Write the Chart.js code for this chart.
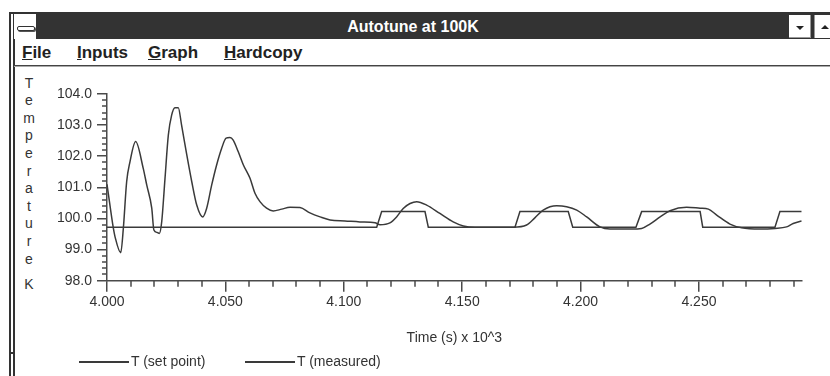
<!DOCTYPE html>
<html>
<head>
<meta charset="utf-8">
<title>Autotune at 100K</title>
<script src="https://cdn.jsdelivr.net/npm/chart.js@4.4.1/dist/chart.umd.min.js"></script>
<style>
    body { margin: 0; width: 830px; height: 376px; overflow: hidden; background: #fff; position: relative;
           font-family: "Liberation Sans", Arial, sans-serif; color: #2e2e2e; }
    .abs { position: absolute; }
    .menu { position: absolute; top: 44px; font-size: 17px; font-weight: bold; line-height: 17px; color: #222; }
    .letter { position: absolute; left: 22px; width: 14px; text-align: center; font-size: 14px; line-height: 17.6px; color: #333; }
    .leg-line { position: absolute; height: 1.5px; background: #3a3a3a; }
    .leg-text { position: absolute; font-size: 14px; line-height: 16px; color: #333; }
    #grafico { position: absolute; left: 15px; top: 67px; }
</style>
</head>
<body>
<!-- window frame -->
<div class="abs" style="left:9px; top:12px; width:830px; height:1.5px; background:#333;"></div>
<div class="abs" style="left:9px; top:12px; width:1.5px; height:370px; background:#333;"></div>
<div class="abs" style="left:13px; top:12px; width:1.5px; height:370px; background:#333;"></div>
<div class="abs" style="left:9px; top:352px; width:5px; height:1.5px; background:#333;"></div>
<div class="abs" style="left:37px; top:12px; width:1px; height:3px; background:#333;"></div>
<div class="abs" style="left:812px; top:12px; width:1px; height:3px; background:#333;"></div>

<!-- title bar -->
<div class="abs" style="left:14px; top:14px; width:820px; height:25px; background:#333;"></div>
<div class="abs" style="left:14px; top:14px; width:22px; height:25px; background:#fff; border-right:1px solid #333;"></div>
<div class="abs" style="left:17px; top:26px; width:16px; height:3px; background:#fff; border:1px solid #333; border-radius:2px; box-shadow:1px 1px 0 #555;"></div>
<div class="abs" style="left:37px; top:14px; width:752px; height:25px; line-height:25px; text-align:center; color:#fff; font-size:16px; font-weight:bold;">Autotune at 100K</div>
<div class="abs" style="left:789px; top:15px; width:22px; height:23px; background:#fff; box-shadow:inset -1px -1px 0 #999;"></div>
<div class="abs" style="left:796px; top:26px; width:0; height:0; border-left:4px solid transparent; border-right:4px solid transparent; border-top:4px solid #222;"></div>
<div class="abs" style="left:814px; top:15px; width:20px; height:23px; background:#fff; box-shadow:inset 1px 0 0 #999;"></div>
<div class="abs" style="left:821px; top:25px; width:0; height:0; border-left:4px solid transparent; border-right:4px solid transparent; border-bottom:4px solid #222;"></div>

<!-- menu bar -->
<div class="menu" style="left:22px;"><u>F</u>ile</div>
<div class="menu" style="left:77px;"><u>I</u>nputs</div>
<div class="menu" style="left:148px;"><u>G</u>raph</div>
<div class="menu" style="left:224px;"><u>H</u>ardcopy</div>
<div class="abs" style="left:14px; top:65px; width:820px; height:1px; background:#444;"></div>
<div class="abs" style="left:14px; top:66px; width:820px; height:1px; background:#aaa;"></div>

<div id="ytitulo"></div>
<canvas id="grafico" width="815" height="309"></canvas>
<div id="leyenda"></div>

<script>
// Time axis (s x 10^3)
const timeSetPoint = [4.0000, 4.1139, 4.1160, 4.1343, 4.1357, 4.1723, 4.1744, 4.1948, 4.1967,
    4.2234, 4.2258, 4.2505, 4.2516, 4.2821, 4.2842, 4.2934];
const tempSetPoint = [99.72, 99.72, 100.22, 100.22, 99.72, 99.72, 100.22, 100.22, 99.72,
    99.72, 100.22, 100.22, 99.72, 99.72, 100.22, 100.22];

const timeMeasured = [4.0000, 4.0027, 4.0034, 4.0058, 4.0069, 4.0083, 4.0097, 4.0121, 4.0153, 4.0168,
    4.0189, 4.0198, 4.0212, 4.0221, 4.0231, 4.0245, 4.0259, 4.0273, 4.0287, 4.0301,
    4.0315, 4.0337, 4.0358, 4.0379, 4.0404, 4.0421, 4.0442, 4.0463, 4.0484, 4.0503,
    4.0519, 4.0533, 4.0554, 4.0576, 4.0604, 4.0625, 4.0646, 4.0674, 4.0702, 4.0738,
    4.0773, 4.0815, 4.0857, 4.0900, 4.0942, 4.1005, 4.1068, 4.1132, 4.1153, 4.1195,
    4.1223, 4.1251, 4.1280, 4.1308, 4.1350, 4.1406, 4.1462, 4.1505, 4.1554, 4.1716,
    4.1772, 4.1807, 4.1842, 4.1899, 4.1941, 4.1984, 4.2026, 4.2082, 4.2124, 4.2216,
    4.2258, 4.2293, 4.2336, 4.2378, 4.2448, 4.2505, 4.2540, 4.2575, 4.2631, 4.2680,
    4.2758, 4.2821, 4.2870, 4.2898, 4.2934];
const tempMeasured = [101.10, 99.68, 99.41, 98.90, 99.68, 101.18, 101.82, 102.47, 101.61, 101.07,
    100.33, 99.63, 99.55, 99.52, 99.89, 101.29, 102.68, 103.32, 103.56, 103.56,
    103.00, 102.04, 101.18, 100.43, 100.05, 100.33, 101.07, 101.72, 102.25, 102.58,
    102.60, 102.52, 102.15, 101.72, 101.29, 100.81, 100.54, 100.33, 100.24, 100.30,
    100.36, 100.35, 100.18, 100.05, 99.95, 99.92, 99.89, 99.86, 99.80, 99.86,
    100.05, 100.32, 100.48, 100.54, 100.43, 100.16, 99.89, 99.76, 99.72, 99.72,
    99.79, 100.02, 100.27, 100.41, 100.38, 100.27, 100.05, 99.73, 99.66, 99.66,
    99.68, 99.82, 100.05, 100.25, 100.36, 100.33, 100.30, 100.11, 99.82, 99.70,
    99.66, 99.68, 99.73, 99.84, 99.92];

const seriesLabels = ['T (set point)', 'T (measured)'];
const xTicks = [4.000, 4.050, 4.100, 4.150, 4.200, 4.250];
const yTicks = [98.0, 99.0, 100.0, 101.0, 102.0, 103.0, 104.0];
const yTitle = ['T', 'e', 'm', 'p', 'e', 'r', 'a', 't', 'u', 'r', 'e'];
const yUnit = 'K';

const INK = '#3a3a3a';
const AXIS = '#4a4a4a';

// minor tick marks, placed through the chart scales
const minorTicks = {
    id: 'minorTicks',
    afterDraw(chart) {
        const { ctx, scales: { x, y } } = chart;
        ctx.save();
        ctx.strokeStyle = AXIS;
        ctx.lineWidth = 1.5;
        ctx.beginPath();
        for (let i = 1; i < 30; i++) {
            if (i % 5 === 0) continue;
            const px = Math.round(x.getPixelForValue(4 + i * 0.01));
            ctx.moveTo(px, y.bottom);
            ctx.lineTo(px, y.bottom + 6);
        }
        for (let i = 1; i < 30; i++) {
            if (i % 5 === 0) continue;
            const py = Math.round(y.getPixelForValue(98 + i * 0.2));
            ctx.moveTo(x.left, py);
            ctx.lineTo(x.left - 5, py);
        }
        ctx.stroke();
        ctx.restore();
    }
};

function puntos(xs, ys) {
    return xs.map((t, i) => ({ x: t, y: ys[i] }));
}

new Chart(document.getElementById('grafico'), {
    type: 'line',
    data: {
        datasets: [{
            label: seriesLabels[0],
            data: puntos(timeSetPoint, tempSetPoint),
            borderColor: INK,
            borderWidth: 1.5,
            pointRadius: 0,
            tension: 0
        }, {
            label: seriesLabels[1],
            data: puntos(timeMeasured, tempMeasured),
            borderColor: INK,
            borderWidth: 1.5,
            pointRadius: 0,
            cubicInterpolationMode: 'monotone'
        }]
    },
    options: {
        responsive: false,
        animation: false,
        devicePixelRatio: 1,
        layout: { padding: { left: 0, top: 27, right: 28.3, bottom: 29.6 } },
        plugins: { legend: { display: false }, tooltip: { enabled: false } },
        scales: {
            x: {
                type: 'linear',
                min: 4.0,
                max: 4.2934,
                afterBuildTicks: (scale) => { scale.ticks = xTicks.map(v => ({ value: v })); },
                afterFit: (scale) => { scale.height = 65.7; },
                ticks: {
                    callback: (v) => Number(v).toFixed(3),
                    color: '#333',
                    font: { family: 'Liberation Sans', size: 14 },
                    padding: 2,
                    maxRotation: 0
                },
                grid: { display: true, drawOnChartArea: false, tickLength: 11, color: AXIS, lineWidth: 1.5 },
                border: { display: true, color: AXIS, width: 1.5 },
                title: {
                    display: true,
                    text: 'Time (s) x 10^3',
                    color: '#333',
                    font: { family: 'Liberation Sans', size: 14 },
                    padding: 0
                }
            },
            y: {
                min: 98,
                max: 104,
                afterBuildTicks: (scale) => { scale.ticks = yTicks.map(v => ({ value: v })); },
                afterFit: (scale) => { scale.width = 92; },
                ticks: {
                    callback: (v) => Number(v).toFixed(1),
                    color: '#333',
                    font: { family: 'Liberation Sans', size: 14 },
                    padding: 5
                },
                grid: { display: true, drawOnChartArea: false, tickLength: 10, color: AXIS, lineWidth: 1.5 },
                border: { display: true, color: AXIS, width: 1.5 }
            }
        }
    },
    plugins: [minorTicks]
});

// stacked y-axis title, unit set a little lower
const ytitulo = document.getElementById('ytitulo');
ytitulo.innerHTML = yTitle.map((c, i) =>
    `<div class="letter" style="top:${74.5 + i * 17.6}px">${c}</div>`).join('') +
    `<div class="letter" style="top:276px">${yUnit}</div>`;

// legend below the axis title
const leyenda = document.getElementById('leyenda');
const legPos = [79, 245];
leyenda.innerHTML = seriesLabels.map((nombre, i) => `
    <div class="leg-line" style="left:${legPos[i]}px; top:361px; width:50px;"></div>
    <div class="leg-text" style="left:${legPos[i] + 52}px; top:353px;">${nombre}</div>
`).join('');
</script>
</body>
</html>
